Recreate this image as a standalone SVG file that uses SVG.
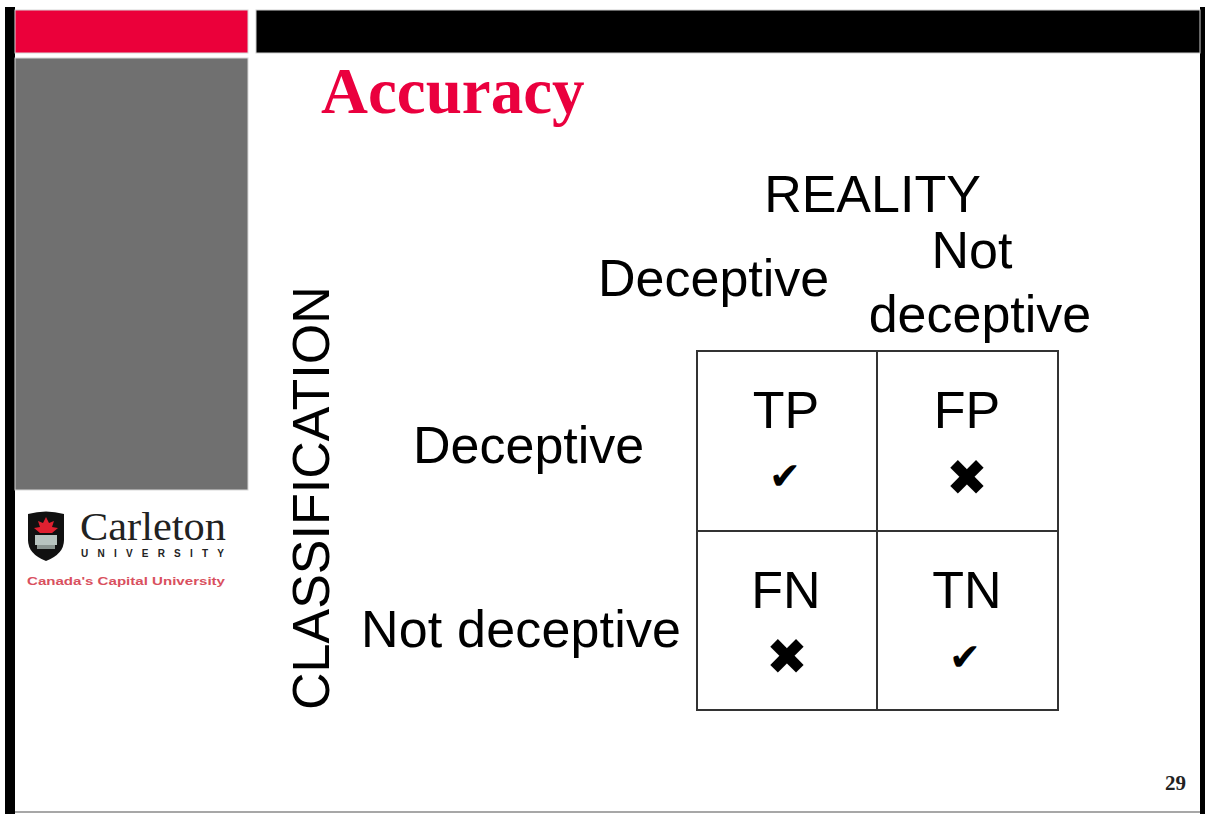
<svg xmlns="http://www.w3.org/2000/svg" width="1205" height="814" viewBox="0 0 1205 814">
  <style>
    .sans { font-family: "Liberation Sans", Arial, sans-serif; }
    .lbl { font-size: 52px; fill: #000; }
    .cellbox { fill: #fff; stroke: #333; stroke-width: 2; }
    .sym { font-family: "DejaVu Sans", sans-serif; fill: #000; text-anchor: middle; }
    .serif { font-family: "Liberation Serif", "Times New Roman", serif; }
  </style>
  <rect x="0" y="0" width="1205" height="814" fill="#fff"/>

  <g id="frame">
    <rect x="5" y="7" width="10" height="807" fill="#000"/>
    <rect x="1200" y="7" width="5" height="807" fill="#000"/>
    <line x1="15" y1="812" x2="1200" y2="812" stroke="#8a8a8a" stroke-width="1.5"/>
    <rect x="15" y="10" width="233" height="43" fill="#EB003A" stroke="#d8d8d8" stroke-width="1"/>
    <rect x="15" y="58" width="233" height="432" fill="#707070" stroke="#d8d8d8" stroke-width="1"/>
    <rect x="256" y="10" width="944" height="43" fill="#000" stroke="#cfcfcf" stroke-width="1"/>
  </g>

  <g id="logo">
    <path d="M28,514 Q46,509 64,514 L64,540 Q64,554 46,561 Q28,554 28,540 Z" fill="#111"/>
    <path d="M46,517 L49,523 L54,521 L52,527 L58,528 L52,533 L40,533 L34,528 L40,527 L38,521 L43,523 Z" fill="#e02030"/>
    <rect x="35" y="535" width="22" height="10" fill="#b8c4c0"/>
    <rect x="37" y="545" width="18" height="4" fill="#8a9490"/>
    <text x="80" y="540" class="serif" font-size="40" style="fill:#222" textLength="146" lengthAdjust="spacingAndGlyphs">Carleton</text>
    <text x="81" y="557" class="sans" font-size="10" font-weight="900" style="fill:#222" textLength="143" lengthAdjust="spacing">UNIVERSITY</text>
    <text x="27" y="585" class="sans" font-size="11" font-weight="bold" style="fill:#d9505e" textLength="198" lengthAdjust="spacingAndGlyphs">Canada's Capital University</text>
  </g>

  <g id="title">
    <text x="321" y="113" class="serif" font-size="65" font-weight="bold" style="fill:#EA003E">Accuracy</text>
  </g>

  <g id="reality-header">
    <text x="872.5" y="212" class="sans lbl" text-anchor="middle">REALITY</text>
    <text x="598" y="296" class="sans lbl">Deceptive</text>
    <text x="972" y="268" class="sans lbl" text-anchor="middle">Not</text>
    <text x="980" y="332" class="sans lbl" text-anchor="middle">deceptive</text>
  </g>

  <g id="classification-header">
    <text transform="translate(329,710) rotate(-90)" class="sans lbl">CLASSIFICATION</text>
    <text x="413" y="463" class="sans lbl">Deceptive</text>
    <text x="361" y="647" class="sans lbl" textLength="320">Not deceptive</text>
  </g>

  <g id="cell-tp">
    <rect class="cellbox" x="697" y="351" width="180" height="180"/>
    <text x="786" y="428" class="sans lbl" text-anchor="middle">TP</text>
    <text x="785" y="489" class="sym" font-size="38">✔</text>
  </g>
  <g id="cell-fp">
    <rect class="cellbox" x="877" y="351" width="181" height="180"/>
    <text x="967" y="428" class="sans lbl" text-anchor="middle">FP</text>
    <text x="967" y="495" class="sym" font-size="50">✖</text>
  </g>
  <g id="cell-fn">
    <rect class="cellbox" x="697" y="531" width="180" height="179"/>
    <text x="786" y="608" class="sans lbl" text-anchor="middle">FN</text>
    <text x="787" y="674" class="sym" font-size="50">✖</text>
  </g>
  <g id="cell-tn">
    <rect class="cellbox" x="877" y="531" width="181" height="179"/>
    <text x="967" y="608" class="sans lbl" text-anchor="middle">TN</text>
    <text x="965" y="670" class="sym" font-size="38">✔</text>
  </g>

  <g id="page-number">
    <text x="1165" y="790" class="serif" font-size="21" font-weight="bold" style="fill:#222">29</text>
  </g>
</svg>
